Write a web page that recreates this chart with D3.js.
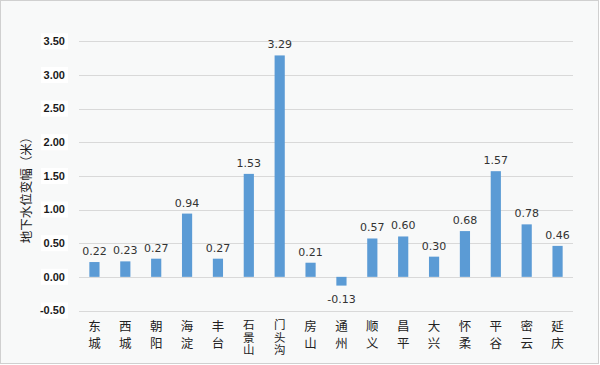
<!DOCTYPE html>
<html><head><meta charset="utf-8">
<script src="https://cdn.jsdelivr.net/npm/d3@7"></script>
<style>body{margin:0;background:#fff}svg{display:block}</style>
</head><body><div id="c"></div>
<script>
const categories = ["东城","西城","朝阳","海淀","丰台","石景山","门头沟","房山","通州","顺义","昌平","大兴","怀柔","平谷","密云","延庆"];
const values = [0.22,0.23,0.27,0.94,0.27,1.53,3.29,0.21,-0.13,0.57,0.60,0.30,0.68,1.57,0.78,0.46];
const yTicks = [-0.5,0,0.5,1,1.5,2,2.5,3,3.5];
const yTitle = "地下水位变幅（米）";

const W=600,H=365;
const fmt=d=>d3.format(".2f")(d).replace("−","-");
const svg=d3.select("#c").append("svg").attr("width",W).attr("height",H);
svg.append("rect").attr("x",0.5).attr("y",0.5).attr("width",598).attr("height",363)
  .attr("fill","#f8f9f9").attr("stroke","#d0d0d0");

const x=d3.scaleBand().domain(categories).range([79,573]).paddingInner(0.67).paddingOuter(0.335);
const y=d3.scaleLinear().domain([-0.5,3.5]).range([310.5,41.3]);

// gridlines
svg.append("g").selectAll("line").data(yTicks).join("line")
  .attr("x1",79).attr("x2",573).attr("y1",d=>Math.round(y(d))+0.5).attr("y2",d=>Math.round(y(d))+0.5)
  .attr("stroke","#d9d9d9").attr("stroke-width",1);

// y tick labels with white boxes
const yl=svg.append("g").selectAll("g").data(yTicks).join("g")
  .attr("transform",d=>`translate(0,${y(d)})`);
yl.append("rect").attr("x",41).attr("y",-8).attr("width",27).attr("height",16).attr("fill","#fff");
yl.append("text").attr("x",65).attr("dy","0.35em").attr("text-anchor","end")
  .attr("font-family","'Liberation Sans',Arial,sans-serif").attr("font-size",11).attr("font-weight","bold")
  .attr("fill","#1a1a1a").text(fmt);

// bars
svg.append("g").selectAll("rect").data(values).join("rect")
  .attr("x",(d,i)=>x(categories[i])).attr("width",x.bandwidth())
  .attr("y",d=>y(Math.max(0,d))).attr("height",d=>Math.abs(y(d)-y(0)))
  .attr("fill","#5b9bd5");

// value labels
svg.append("g").selectAll("text").data(values).join("text")
  .attr("x",(d,i)=>x(categories[i])+x.bandwidth()/2)
  .attr("y",d=>d>=0?y(d)-7:y(d)+17)
  .attr("text-anchor","middle")
  .attr("font-family","'DejaVu Sans',sans-serif").attr("font-size",11).attr("fill","#333")
  .text(fmt);

// category labels: vertical writing
svg.append("g").selectAll("text").data(categories).join("text")
  .attr("x",c=>x(c)+x.bandwidth()/2)
  .attr("y",c=>[...c].length>2?319:319.5)
  .attr("writing-mode","vertical-rl")
  .attr("text-anchor","start")
  .attr("font-family","'Noto Sans CJK SC',sans-serif")
  .attr("font-size",c=>[...c].length>2?11.5:12.5)
  .attr("letter-spacing",c=>[...c].length>2?1:4.5)
  .attr("fill","#222").text(c=>c);

// y title
svg.append("text").attr("transform","translate(31,187) rotate(-90)")
  .attr("text-anchor","middle").attr("font-family","'Noto Sans CJK SC',sans-serif")
  .attr("font-size",12.5).attr("fill","#222").text(yTitle);
</script></body></html>
